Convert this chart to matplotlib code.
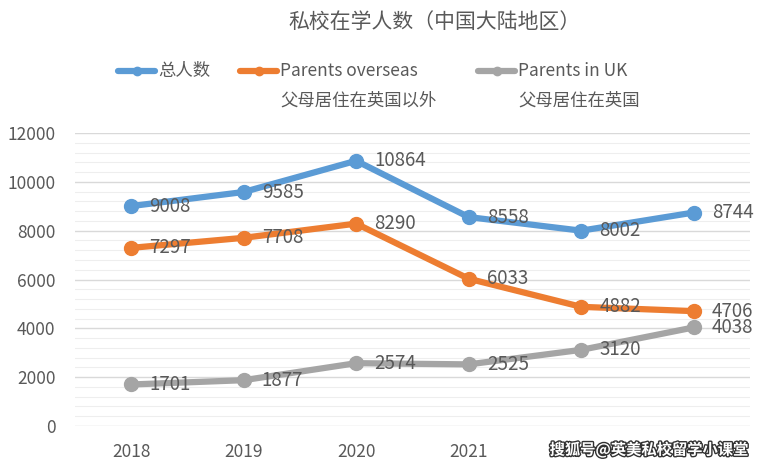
import matplotlib
matplotlib.use("Agg")
import matplotlib.pyplot as plt
import matplotlib.patheffects as pe
from matplotlib.ticker import MultipleLocator
from matplotlib.lines import Line2D

plt.rcParams['font.family'] = ['Noto Sans CJK SC', 'DejaVu Sans']
plt.rcParams['font.weight'] = 'light'

years = ["2018", "2019", "2020", "2021", "2022", "2023"]
total = [9008, 9585, 10864, 8558, 8002, 8744]
overseas = [7297, 7708, 8290, 6033, 4882, 4706]
in_uk = [1701, 1877, 2574, 2525, 3120, 4038]

series = [
    (total, "#5B9BD5"),
    (overseas, "#ED7D31"),
    (in_uk, "#A5A5A5"),
]

fig = plt.figure(figsize=(7.63, 4.68), dpi=100)
ax = fig.add_axes([0.098, 0.0897, 0.885, 0.626])
x = list(range(len(years)))
txtc = "#595959"

for vals, col in series:
    ax.plot(x, vals, color=col, lw=4.5, marker='o', ms=10, solid_capstyle='round', zorder=3, clip_on=False)
    for xi, v in zip(x, vals):
        ax.annotate(str(v), (xi, v), xytext=(13, 0), textcoords='offset points',
                    va='center', ha='left', fontsize=13.5, color=txtc, zorder=4)

ax.set_xlim(-0.5, 5.5)
ax.set_ylim(0, 12000)
ax.set_xticks(x)
ax.set_xticklabels(years)
ax.yaxis.set_major_locator(MultipleLocator(2000))
ax.yaxis.set_minor_locator(MultipleLocator(400))
ax.grid(which='major', axis='y', color='#d9d9d9', lw=1)
ax.grid(which='minor', axis='y', color='#eeeeee', lw=0.8)
ax.set_axisbelow(True)
for s in ax.spines.values():
    s.set_visible(False)
ax.tick_params(axis='both', which='both', length=0, labelsize=12.5, colors=txtc)
ax.tick_params(axis='y', pad=14)
ax.tick_params(axis='x', pad=12)

W, H = 763, 468
fig.text(435 / W, 1 - 22 / H, "私校在学人数（中国大陆地区）", ha='center', va='center', fontsize=15, color=txtc)

# legend
leg_items = [
    (118, "#5B9BD5", "总人数", None),
    (240, "#ED7D31", "Parents overseas", "父母居住在英国以外"),
    (478, "#A5A5A5", "Parents in UK", "父母居住在英国"),
]
for px, col, lab1, lab2 in leg_items:
    y0 = 1 - 71 / H
    fig.add_artist(Line2D([px / W, (px + 37) / W], [y0, y0], color=col, lw=4.5,
                          solid_capstyle='round', transform=fig.transFigure))
    fig.add_artist(Line2D([(px + 18.5) / W], [y0], color=col, marker='o', ms=6, transform=fig.transFigure))
    fig.text((px + 40) / W, 1 - 71 / H, lab1, ha='left', va='center', fontsize=12.5, color=txtc)
    if lab2:
        fig.text((px + 40) / W, 1 - 101 / H, lab2, ha='left', va='center', fontsize=12.5, color=txtc)

fig.text(748 / W, 1 - 450 / H, "搜狐号@英美私校留学小课堂", ha='right', va='center', fontsize=11,
         color='white', fontweight='bold', zorder=10,
         bbox=dict(facecolor='white', edgecolor='none', pad=2),
         path_effects=[pe.withStroke(linewidth=2, foreground='#333333')])

fig.savefig("out.png", dpi=100)
